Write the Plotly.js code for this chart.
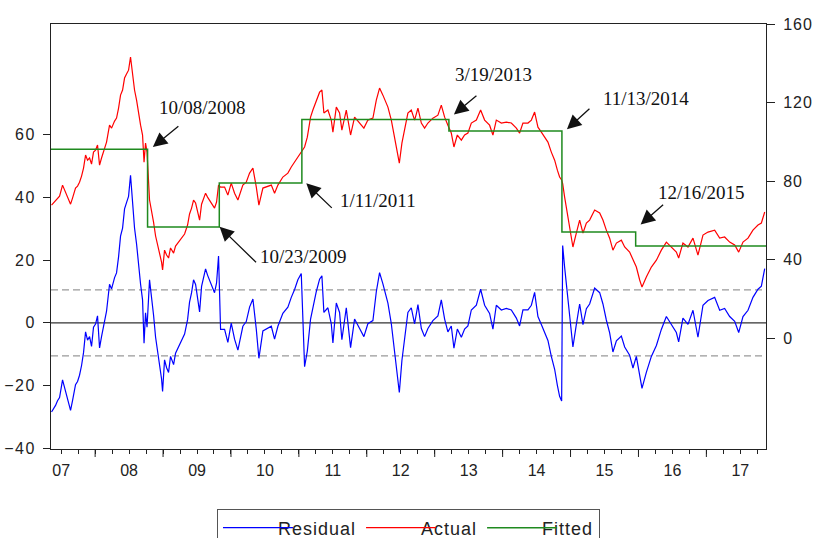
<!DOCTYPE html>
<html><head><meta charset="utf-8">
<script src="https://cdn.plot.ly/plotly-3.0.1.min.js"></script>
<style>
html,body{margin:0;padding:0;background:#fff;}
#chart{width:813px;height:538px;}
.legendtext{letter-spacing:1px;}
.legendlines path{transform-box:fill-box;transform-origin:left center;transform:scaleX(1.4);}
.ytick text{letter-spacing:1.5px;}
.y2tick text{letter-spacing:1px;}
</style></head><body><div id="chart"></div>
<script>
// Actual series (right axis), time in fractional years
const actualT = [2007.358,2007.417,2007.446,2007.476,2007.520,2007.564,2007.594,2007.638,2007.667,2007.711,2007.741,2007.770,2007.800,2007.829,2007.859,2007.888,2007.918,2007.947,2007.976,2008.006,2008.035,2008.065,2008.094,2008.138,2008.168,2008.212,2008.242,2008.286,2008.315,2008.345,2008.374,2008.404,2008.433,2008.462,2008.492,2008.521,2008.551,2008.580,2008.610,2008.639,2008.669,2008.698,2008.720,2008.742,2008.764,2008.801,2008.831,2008.860,2008.890,2008.919,2008.948,2008.978,2008.993,2009.022,2009.052,2009.081,2009.110,2009.155,2009.184,2009.228,2009.272,2009.317,2009.361,2009.390,2009.420,2009.449,2009.479,2009.508,2009.538,2009.567,2009.596,2009.626,2009.655,2009.700,2009.729,2009.758,2009.788,2009.817,2009.847,2009.906,2009.954,2010.004,2010.053,2010.102,2010.175,2010.225,2010.274,2010.323,2010.373,2010.411,2010.470,2010.520,2010.594,2010.642,2010.691,2010.764,2010.838,2010.888,2010.937,2010.985,2011.035,2011.084,2011.124,2011.172,2011.206,2011.256,2011.305,2011.339,2011.368,2011.427,2011.477,2011.501,2011.551,2011.599,2011.633,2011.698,2011.761,2011.820,2011.894,2011.957,2012.016,2012.090,2012.140,2012.188,2012.237,2012.311,2012.361,2012.409,2012.449,2012.479,2012.517,2012.557,2012.605,2012.655,2012.704,2012.753,2012.803,2012.851,2012.900,2012.973,2013.047,2013.097,2013.146,2013.194,2013.244,2013.283,2013.333,2013.392,2013.440,2013.489,2013.539,2013.613,2013.676,2013.735,2013.808,2013.857,2013.907,2013.981,2014.054,2014.128,2014.202,2014.250,2014.299,2014.373,2014.423,2014.471,2014.520,2014.570,2014.619,2014.667,2014.717,2014.766,2014.806,2014.839,2014.869,2014.884,2014.913,2014.947,2014.976,2015.012,2015.035,2015.085,2015.134,2015.183,2015.233,2015.281,2015.355,2015.429,2015.477,2015.527,2015.576,2015.624,2015.675,2015.748,2015.797,2015.870,2015.919,2015.969,2016.018,2016.052,2016.116,2016.190,2016.264,2016.337,2016.411,2016.485,2016.558,2016.592,2016.655,2016.729,2016.803,2016.876,2016.950,2017.024,2017.122,2017.196,2017.269,2017.343,2017.417,2017.476,2017.539,2017.613,2017.686,2017.760,2017.810,2017.859];
const actualV = [67.8,69.9,71.4,72.4,78.0,74.5,71.4,68.3,71.4,76.5,77.5,79.5,82.6,86.7,93.3,90.7,91.8,88.7,94.8,95.8,98.4,88.2,91.8,96.8,99.9,108.5,107.0,110.6,112.1,117.2,123.8,126.4,132.5,134.5,136.5,143.2,134.0,126.4,121.3,113.6,108.5,103.5,89.7,99.4,94.8,70.4,65.3,59.2,52.1,47.5,43.9,38.8,34.8,44.9,42.4,40.9,46.0,43.4,47.0,49.0,51.0,53.1,57.7,63.3,66.3,70.4,68.9,65.3,60.2,68.3,71.4,73.9,71.9,69.4,67.8,66.3,69.4,78.0,77.0,77.0,72.9,79.0,73.9,70.4,78.0,79.5,84.1,86.7,77.0,67.8,76.5,77.0,78.0,73.9,78.0,82.1,84.1,87.2,89.7,92.8,94.8,97.4,102.4,112.6,116.2,121.3,125.3,126.4,114.7,116.2,111.1,105.0,117.7,114.7,106.0,116.2,103.5,112.6,109.6,107.0,111.1,112.1,121.3,127.4,123.8,117.7,111.1,102.4,95.8,89.2,99.4,107.0,114.7,116.2,111.1,117.2,109.6,107.0,109.6,112.1,113.6,118.7,112.6,108.5,104.5,97.4,103.5,100.9,103.5,104.5,109.6,111.1,116.2,111.1,108.5,103.5,111.1,109.6,110.1,109.6,107.0,104.5,109.6,109.6,111.1,115.2,107.5,105.0,102.4,99.9,94.8,90.7,85.6,82.1,80.6,78.8,71.9,65.3,58.7,51.6,46.5,53.6,60.2,53.6,58.7,60.2,65.3,63.8,60.2,55.1,51.0,44.9,48.5,50.0,46.5,43.9,39.8,36.3,29.7,26.1,31.2,36.3,39.8,44.9,49.0,46.5,43.9,40.9,48.5,46.5,51.0,42.4,52.6,54.1,55.1,51.0,51.6,49.0,47.5,43.9,49.0,51.0,55.1,57.7,58.7,64.3];

// Fitted step function (right axis)
const fittedBreaks = [2007.35, 2008.772, 2009.828, 2011.044, 2013.209, 2014.873, 2015.959];
const fittedLevels = [96.2, 56.7, 79.1, 111.4, 105.5, 54.2, 47.0];
const xStart = 2007.35, xEnd = 2017.878;

// Residual band (left axis)
const residualBand = 10.5;

// Axis ticks
const yearLabels = ['07','08','09','10','11','12','13','14','15','16','17'];
const yearLabelPos = [2007.5,2008.5,2009.5,2010.5,2011.5,2012.5,2013.5,2014.5,2015.5,2016.5,2017.5];
const yearTicks = [2008,2009,2010,2011,2012,2013,2014,2015,2016,2017];
const leftTicks = [-40,-20,0,20,40,60];
const rightTicks = [0,40,80,120,160];

// Break annotations
const breakLabels = ['10/08/2008','10/23/2009','1/11/2011','3/19/2013','11/13/2014','12/16/2015'];
const labelX = [2009.574, 2011.069, 2012.166, 2013.867, 2016.104, 2016.926];
const labelY = [117.7, 41.6, 70.4, 134.4, 122.1, 74.2];
const arrowX = [2008.850, 2009.832, 2011.109, 2013.283, 2014.947, 2016.032];
const arrowY = [97.4, 56.8, 78.9, 114.0, 106.4, 58.0];
const arrowAX = [27, 38, 27, 24, 24, 24];
const arrowAY = [-22, 37, 26, -20, -22, -21];

function fittedAt(t){
  let lv = fittedLevels[0];
  for (let i=0;i<fittedBreaks.length;i++){ if (t >= fittedBreaks[i]) lv = fittedLevels[i]; }
  return lv;
}
const residualV = actualV.map((v,i)=> +(v - fittedAt(actualT[i])).toFixed(2));

const traces = [
  {type:'scatter', mode:'lines', name:'Residual', x:actualT, y:residualV, xaxis:'x', yaxis:'y',
   line:{color:'#0000ff', width:1.2}},
  {type:'scatter', mode:'lines', name:'Actual', x:actualT, y:actualV, xaxis:'x', yaxis:'y2',
   line:{color:'#ff0000', width:1.2}},
  {type:'scatter', mode:'lines', name:'Fitted', x:fittedBreaks.concat([xEnd]),
   y:fittedLevels.concat([fittedLevels[fittedLevels.length-1]]), xaxis:'x', yaxis:'y2',
   line:{color:'#1f8a1f', width:1.5, shape:'hv'}}
];

const tickFont = {family:'Liberation Sans, Arial, sans-serif', size:16, color:'#222'};
const annotations = [];
for (let i=0;i<breakLabels.length;i++){
  annotations.push({xref:'x', yref:'y2', x:arrowX[i], y:arrowY[i], text:'', showarrow:true,
    ax:arrowAX[i], ay:arrowAY[i], arrowhead:2, arrowsize:2.2, arrowwidth:1.3, arrowcolor:'#111', standoff:0});
  annotations.push({xref:'x', yref:'y2', x:labelX[i], y:labelY[i], text:breakLabels[i], showarrow:false,
    xanchor:'center', yanchor:'middle',
    font:{family:'Liberation Serif, Times New Roman, serif', size:19, color:'#111'}});
}

const shapes = [
  {type:'line', xref:'paper', yref:'y', x0:0, x1:1, y0:0, y1:0, line:{color:'#333', width:1.2}, layer:'below'},
  {type:'line', xref:'paper', yref:'y', x0:0, x1:1, y0:residualBand, y1:residualBand, line:{color:'#999', width:1.2, dash:'7px,4px'}, layer:'below'},
  {type:'line', xref:'paper', yref:'y', x0:0, x1:1, y0:-residualBand, y1:-residualBand, line:{color:'#999', width:1.2, dash:'7px,4px'}, layer:'below'}
];
// long tick marks at year boundaries
yearTicks.forEach(t => shapes.push({type:'line', xref:'x', yref:'paper', ysizemode:'pixel', yanchor:0,
  x0:t, x1:t, y0:0, y1:-8, line:{color:'#222', width:1}}));

const layout = {
  width:813, height:538,
  margin:{l:51, r:47, t:24, b:89, pad:0, autoexpand:false},
  paper_bgcolor:'#fff', plot_bgcolor:'#fff',
  showlegend:true,
  legend:{orientation:'h', x:0.5, xanchor:'center', y:-0.14, yanchor:'top', itemwidth:50,
    bordercolor:'#555', borderwidth:1, bgcolor:'#fff',
    font:{family:'Liberation Sans, Arial, sans-serif', size:18, color:'#222'}},
  xaxis:{range:[xStart,xEnd], tickmode:'array', tickvals:yearLabelPos, ticktext:yearLabels,
    ticks:'outside', ticklen:4, tickwidth:1, tickcolor:'#222', tickfont:tickFont, ticklabelstandoff:3,
    minor:{tickmode:'linear', tick0:2007, dtick:0.25, ticks:'outside', ticklen:4, tickwidth:1, tickcolor:'#222', showgrid:false},
    showline:true, mirror:true, linecolor:'#222', linewidth:1, showgrid:false, zeroline:false},
  yaxis:{range:[-40.2,95.2], tickmode:'array', tickvals:leftTicks, ticks:'outside', ticklen:7, tickcolor:'#222',
    showline:true, linecolor:'#222', linewidth:1, showgrid:false, zeroline:false, tickfont:tickFont, ticklabelstandoff:4},
  yaxis2:{overlaying:'y', side:'right', range:[-56.3,160], tickmode:'array', tickvals:rightTicks, ticks:'outside',
    ticklen:8, tickcolor:'#222', showline:true, linecolor:'#222', linewidth:1, showgrid:false, zeroline:false,
    tickfont:tickFont, ticklabelstandoff:5},
  shapes:shapes,
  annotations:annotations
};

Plotly.newPlot('chart', traces, layout, {displayModeBar:false, staticPlot:true});
</script></body></html>
